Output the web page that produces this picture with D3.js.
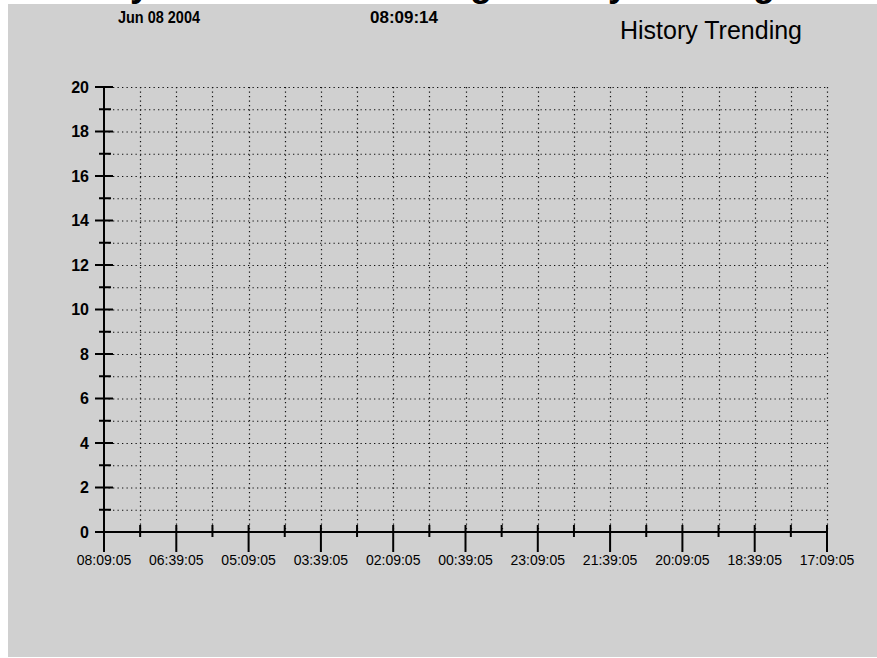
<!DOCTYPE html>
<html>
<head>
	<meta charset="utf-8">
	<script src="https://cdn.jsdelivr.net/npm/d3@7"></script>
	<title>History Trending</title>
	<style>
		body { margin: 0; background: #fff; }
		text { font-family: Arial, "Liberation Sans", sans-serif; }
	</style>
</head>
<body>
	<script>
		// chart values
		var headerDate = 'Jun 08 2004';
		var headerTime = '08:09:14';
		var chartTitle = 'History Trending';
		var cutTitleWords = ['History', 'Trending', 'History', 'Trending'];
		var yTicks = [0, 2, 4, 6, 8, 10, 12, 14, 16, 18, 20];
		var xLabels = ['08:09:05', '06:39:05', '05:09:05', '03:39:05', '02:09:05', '00:39:05',
			'23:09:05', '21:39:05', '20:09:05', '18:39:05', '17:09:05'];
		var series = []; // no trend values recorded

		var svgWidth = 877;
		var svgHeight = 658;

		var svg = d3.select('body')
			.append('svg')
			.attr('width', svgWidth)
			.attr('height', svgHeight);

		svg.append('rect')
			.attr('x', 8).attr('y', 4)
			.attr('width', svgWidth - 8).attr('height', svgHeight - 5)
			.attr('fill', '#d0d0d0');

		// big title that is cut off at the top of the picture
		var cutX = [150, 492, 628, 775];
		svg.selectAll('text.cut')
			.data(cutTitleWords)
			.enter()
			.append('text')
			.attr('class', 'cut')
			.attr('x', function(d, i) { return cutX[i]; })
			.attr('y', -4)
			.attr('text-anchor', 'end')
			.attr('font-size', 36)
			.attr('font-weight', 'bold')
			.text(function(d) { return d; });

		svg.append('text')
			.attr('x', 118).attr('y', 23)
			.attr('font-weight', 'bold')
			.attr('font-size', 17)
			.attr('textLength', 82)
			.attr('lengthAdjust', 'spacingAndGlyphs')
			.text(headerDate);

		svg.append('text')
			.attr('x', 370).attr('y', 23)
			.attr('font-weight', 'bold')
			.attr('font-size', 17)
			.attr('textLength', 68)
			.attr('lengthAdjust', 'spacingAndGlyphs')
			.text(headerTime);

		svg.append('text')
			.attr('x', 620).attr('y', 39)
			.attr('font-size', 25)
			.text(chartTitle);

		var yScale = d3.scaleLinear().domain([0, 20]).range([532, 87]);
		var xScale = d3.scaleLinear().domain([0, xLabels.length - 1]).range([104, 827]);

		var yMinor = d3.range(1, 21);
		var xMinor = d3.range(0.5, xLabels.length - 0.5, 0.5);
		var xMajorIdx = d3.range(xLabels.length);

		// dotted grid
		var grid = svg.append('g')
			.attr('stroke', '#111')
			.attr('stroke-width', 1.2)
			.attr('stroke-dasharray', '1.3,3.2');

		grid.selectAll('line.h')
			.data(yMinor)
			.enter()
			.append('line')
			.attr('x1', xScale(0)).attr('x2', xScale(xLabels.length - 1))
			.attr('y1', function(d) { return yScale(d) + 0.5; })
			.attr('y2', function(d) { return yScale(d) + 0.5; });

		grid.selectAll('line.v')
			.data(xMinor)
			.enter()
			.append('line')
			.attr('y1', yScale(20)).attr('y2', yScale(0))
			.attr('x1', function(d) { return Math.round(xScale(d)) + 0.5; })
			.attr('x2', function(d) { return Math.round(xScale(d)) + 0.5; });

		// axes
		var axes = svg.append('g').attr('stroke', '#000').attr('stroke-width', 2);

		axes.append('line')
			.attr('x1', xScale(0)).attr('x2', xScale(0))
			.attr('y1', yScale(20)).attr('y2', 552);
		axes.append('line')
			.attr('x1', 96).attr('x2', xScale(xLabels.length - 1))
			.attr('y1', yScale(0)).attr('y2', yScale(0));

		axes.selectAll('line.ymaj')
			.data(yTicks)
			.enter()
			.append('line')
			.attr('x1', 95).attr('x2', 113)
			.attr('y1', function(d) { return yScale(d); })
			.attr('y2', function(d) { return yScale(d); });

		axes.selectAll('line.ymin')
			.data(yMinor.filter(function(d) { return d % 2 === 1; }))
			.enter()
			.append('line')
			.attr('x1', 99).attr('x2', 111)
			.attr('y1', function(d) { return yScale(d); })
			.attr('y2', function(d) { return yScale(d); });

		axes.selectAll('line.xmaj')
			.data(xMajorIdx)
			.enter()
			.append('line')
			.attr('x1', function(d) { return xScale(d); })
			.attr('x2', function(d) { return xScale(d); })
			.attr('y1', 525).attr('y2', 552);

		axes.selectAll('line.xmin')
			.data(xMinor.filter(function(d) { return d % 1 !== 0; }))
			.enter()
			.append('line')
			.attr('x1', function(d) { return xScale(d); })
			.attr('x2', function(d) { return xScale(d); })
			.attr('y1', 525).attr('y2', 537);

		// labels
		svg.selectAll('text.ylab')
			.data(yTicks)
			.enter()
			.append('text')
			.attr('class', 'ylab')
			.attr('x', 89)
			.attr('y', function(d) { return yScale(d); })
			.attr('dy', '0.36em')
			.attr('text-anchor', 'end')
			.attr('font-size', 16)
			.attr('font-weight', 'bold')
			.text(function(d) { return d; });

		svg.selectAll('text.xlab')
			.data(xLabels)
			.enter()
			.append('text')
			.attr('class', 'xlab')
			.attr('x', function(d, i) { return xScale(i); })
			.attr('y', 565)
			.attr('text-anchor', 'middle')
			.attr('font-size', 14)
			.text(function(d) { return d; });

		// trend line (empty history)
		svg.append('path')
			.datum(series)
			.attr('fill', 'none')
			.attr('stroke', '#000')
			.attr('d', d3.line()
				.x(function(d, i) { return xScale(i); })
				.y(function(d) { return yScale(d); }));
	</script>
</body>
</html>
